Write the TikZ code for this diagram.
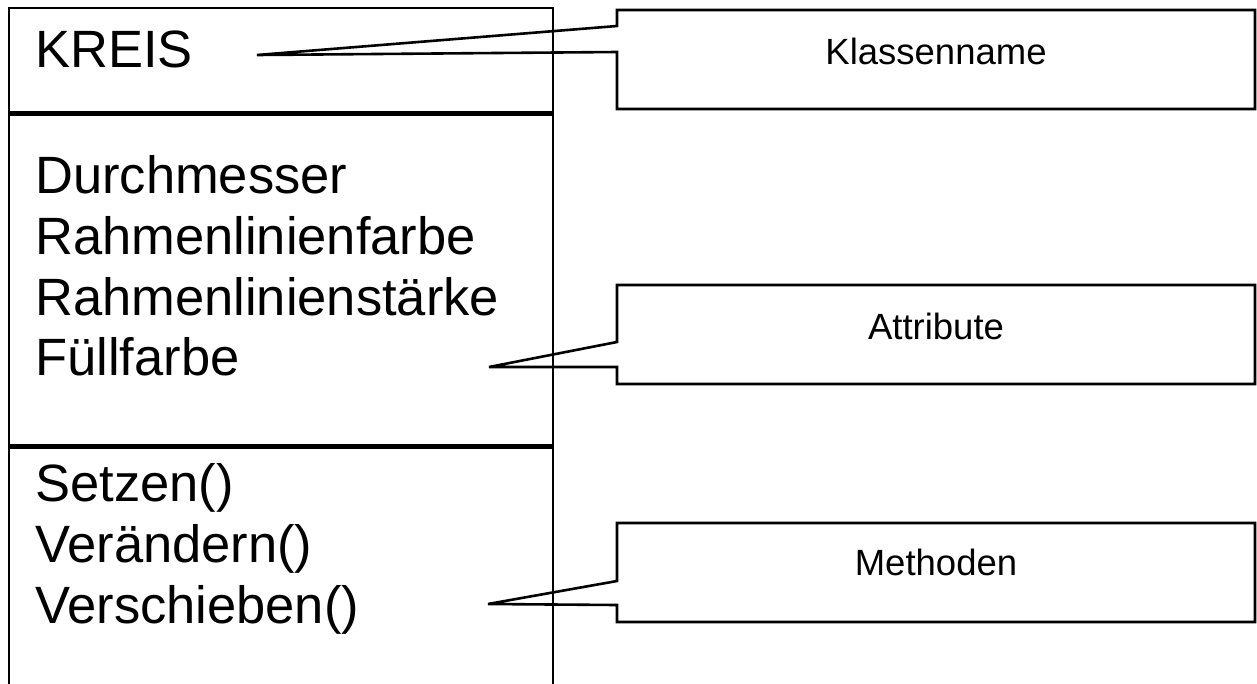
\documentclass[tikz,border=0pt]{standalone}
\usepackage{fontspec}
\setmainfont{Liberation Sans}
\begin{document}
\begin{tikzpicture}[x=1pt,y=-1pt,
  boxline/.style={draw=black,line width=2.6pt},
  divline/.style={draw=black,line width=5pt},
  callout/.style={draw=black,line width=2.6pt,line join=miter},
  member/.style={anchor=base west,inner sep=0pt,font=\fontsize{52.5}{61}\selectfont},
  calltext/.style={anchor=base,inner sep=0pt,font=\fontsize{36.5}{42}\selectfont}]
\useasboundingbox (0,0) rectangle (1257,683);
\fill[white] (0,0) rectangle (1257,683);
% main class box (open at bottom)
\coordinate (bl) at (9,690);
\coordinate (tl) at (9,8);
\coordinate (tr) at (553,8);
\coordinate (br) at (553,690);
\draw[boxline] (bl) -- (tl) -- (tr) -- (br);
\draw[divline] (9,113) -- (553,113);
\draw[divline] (9,446) -- (553,446);
% texts
\node[member] (kreis) at (35,67) {KREIS};
\node[member] (a1) at (35,193) {Durchmesser};
\node[member] (a2) at (35,254) {Rahmenlinienfarbe};
\node[member] (a3) at (35,315) {Rahmenlinienstärke};
\node[member] (a4) at (35,375) {Füllfarbe};
\node[member] (m1) at (35,501) {Setzen()};
\node[member] (m2) at (35,562) {Verändern()};
\node[member] (m3) at (35,623) {Verschieben()};
% callouts
\coordinate (tipK) at (257,55);
\coordinate (tipA) at (489,367);
\coordinate (tipM) at (488,604);
\draw[callout] (617,10) -- (1255,10) -- (1255,109) -- (617,109) -- (617,52) -- (tipK) -- (617,26) -- cycle;
\draw[callout] (617,285) -- (1255,285) -- (1255,384) -- (617,384) -- (617,367) -- (tipA) -- (617,342) -- cycle;
\draw[callout] (617,523) -- (1255,523) -- (1255,622) -- (617,622) -- (617,605) -- (tipM) -- (617,581) -- cycle;
\node[calltext] (kn) at (936,64) {Klassenname};
\node[calltext] (at) at (936,339) {Attribute};
\node[calltext] (me) at (936,575) {Methoden};
\end{tikzpicture}
\end{document}
